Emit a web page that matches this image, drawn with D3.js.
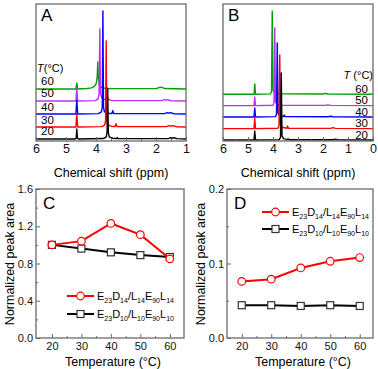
<!DOCTYPE html>
<html>
<head>
<meta charset="utf-8">
<script src="https://cdn.jsdelivr.net/npm/d3@7"></script>
<style>
  body { margin: 0; background: #fff; }
  text { font-family: Arial, "Liberation Sans", sans-serif; }
</style>
</head>
<body>
<svg id="fig" width="378" height="369"></svg>
<script>
// datos de los espectros: [ppm, altura sobre la línea base]
var temps = ["20", "30", "40", "50", "60"];
var traceColors = ["#000000", "#ff0000", "#0000ff", "#c030f0", "#00a000"];

// panel A
var offsetsA = [1.5, 10.2, 19.7, 29.2, 38];
var specA20 = [[6,0],[4.69,0],[4.66,0.5],[4.64,7.3],[4.62,0.5],[4.59,0],[3.75,0.3],[3.66,1.5],[3.63,5],[3.61,37],[3.59,5],[3.56,1.5],[3.45,0.5],[3.31,0.3],[3.29,1],[3.27,0.3],[1.6,0.2],[1.5,0.9],[1.45,0.5],[1.4,0.9],[1.3,0.2],[1,0]];
var specA30 = [[6,0],[4.67,0],[4.64,9.5],[4.61,0],[3.8,0.3],[3.71,1.5],[3.68,5],[3.66,62.8],[3.64,5],[3.61,1.5],[3.5,0.6],[3.36,0.4],[3.33,2.5],[3.3,0.4],[1.65,0.3],[1.55,1],[1.5,0.6],[1.45,1],[1.3,0.2],[1,0]];
var specA40 = [[6,0],[4.67,0],[4.64,10.2],[4.61,0],[3.92,0.3],[3.82,1.5],[3.79,5],[3.77,75.2],[3.75,5],[3.72,1.5],[3.6,0.6],[3.47,0.4],[3.44,2.5],[3.41,0.4],[1.72,0.3],[1.62,1],[1.57,0.6],[1.52,1],[1.4,0.2],[1,0]];
var specA50 = [[6,0],[4.67,0],[4.64,9.5],[4.61,0],[4.02,0.3],[3.93,1.5],[3.9,5],[3.87,52.6],[3.85,5],[3.8,2],[3.7,1],[3.6,1.5],[3.5,0.4],[1.8,0.3],[1.72,1],[1.67,0.6],[1.62,1],[1.5,0.2],[1,0]];
var specA60 = [[6,0],[4.67,0],[4.64,4.3],[4.61,0],[4.3,0.3],[4.15,0.8],[4.05,1.8],[3.99,4],[3.96,9],[3.94,19.7],[3.92,8],[3.89,3],[3.84,1.5],[3.75,0.7],[3.6,0.3],[2,0.2],[1.85,1.3],[1.78,1],[1.7,0.3],[1,0]];
var spectraA = [specA20, specA30, specA40, specA50, specA60];

// panel B
var offsetsB = [0.7, 9, 17.5, 25.8, 34.1];
var specB20 = [[6,0],[4.76,0],[4.73,6.6],[4.7,0],[3.75,0.3],[3.7,2],[3.67,48.9],[3.64,3],[3.58,1],[3.45,0.3],[3.4,0.8],[3.35,0.2],[1.6,0.2],[1.5,0.6],[1.4,0.2],[0,0]];
var specB30 = [[6,0],[4.76,0],[4.73,7.8],[4.7,0],[3.8,0.3],[3.76,2],[3.73,53.8],[3.7,3],[3.64,1],[3.45,0.3],[3.42,2],[3.39,0.3],[1.7,0.2],[1.6,0.8],[1.5,0.2],[0,0]];
var specB40 = [[6,0],[4.76,0],[4.73,6.6],[4.7,0],[3.9,0.3],[3.86,2],[3.83,54],[3.8,3],[3.74,1],[3.58,0.3],[3.55,1.5],[3.52,0.3],[1.8,0.2],[1.7,0.6],[1.6,0.2],[0,0]];
var specB50 = [[6,0],[4.76,0],[4.73,6.3],[4.7,0],[4,0.3],[3.96,2],[3.93,56.7],[3.9,3],[3.84,1],[3.7,0.3],[1.9,0.2],[1.8,0.6],[1.7,0.2],[0,0]];
var specB60 = [[6,0],[4.76,0],[4.73,7.5],[4.7,0],[4.1,0.3],[4.06,2],[4.03,60.8],[4,3],[3.94,1],[3.8,0.3],[2,0.2],[1.9,0.7],[1.8,0.2],[0,0]];
var spectraB = [specB20, specB30, specB40, specB50, specB60];

// paneles C y D: área de pico normalizada
var temperatures = [20, 30, 40, 50, 60];
var legendNames = [
  [["E",""],["23","s"],["D",""],["14","s"],["/L",""],["14","s"],["E",""],["90","s"],["L",""],["14","s"]],
  [["E",""],["23","s"],["D",""],["10","s"],["/L",""],["10","s"],["E",""],["90","s"],["L",""],["10","s"]]
];
var areaC14 = [1.0, 1.04, 1.23, 1.11, 0.85];
var areaC10 = [1.0, 0.96, 0.92, 0.89, 0.87];
var areaD14 = [0.076, 0.079, 0.094, 0.103, 0.108];
var areaD10 = [0.044, 0.044, 0.043, 0.044, 0.043];
var ticksC = [0, 0.4, 0.8, 1.2, 1.6];
var ticksD = [0, 0.1, 0.2];

var svg = d3.select("#fig");
var frameColor = "#6a6a6a";

function insideAxis(g, axis, minorAxis) {
  g.call(minorAxis);
  g.selectAll("text").remove();
  g.select(".domain").remove();
  var gm = g.append("g").call(axis);
  gm.select(".domain").remove();
  g.selectAll("line").attr("stroke", frameColor);
  g.selectAll("text").attr("font-size", 11).attr("fill", "#111");
}

// ---- Espectros (A y B)
function drawSpectra(x, offsets, spectra, frame, letter, labelPos) {
  var y = d3.scaleLinear().domain([0, 100]).range([141, 4]);
  var line = d3.line()
    .x(d => x(d[0]))
    .y(d => y(d[1]));

  // dibujar de 60 a 20 para que el negro quede encima
  for (var i = spectra.length - 1; i >= 0; i--) {
    var off = offsets[i];
    svg.append("path")
      .attr("d", line(spectra[i].map(p => [p[0], p[1] + off])))
      .attr("fill", "none")
      .attr("stroke", traceColors[i])
      .attr("stroke-width", 1.4)
      .attr("stroke-linejoin", "round");
  }

  var xd = x.domain();
  var majors = d3.range(Math.min(xd[0], xd[1]), Math.max(xd[0], xd[1]) + 0.01, 1);
  var minors = d3.range(Math.min(xd[0], xd[1]) + 0.5, Math.max(xd[0], xd[1]), 1);
  var g = svg.append("g").attr("transform", "translate(0,141)");
  insideAxis(g,
    d3.axisBottom(x).tickValues(majors).tickFormat(d3.format("d")).tickSize(-4).tickPadding(3),
    d3.axisBottom(x).tickValues(minors).tickSize(-2));
  g.selectAll("text").attr("font-size", 12.5);

  svg.append("rect")
    .attr("x", frame[0]).attr("y", 4)
    .attr("width", frame[1] - frame[0]).attr("height", 137)
    .attr("fill", "none").attr("stroke", frameColor).attr("stroke-width", 1.3);

  svg.append("text")
    .attr("x", frame[0] + 5).attr("y", 21)
    .attr("font-size", 17)
    .text(letter);

  svg.append("text")
    .attr("x", (frame[0] + frame[1]) / 2).attr("y", 177)
    .attr("text-anchor", "middle")
    .attr("font-size", 12.5)
    .text("Chemical shift (ppm)");

  // etiquetas de temperatura
  var tl = svg.append("text")
    .attr("x", labelPos.titleX).attr("y", labelPos.titleY)
    .attr("text-anchor", labelPos.anchor)
    .attr("font-size", 11);
  tl.append("tspan").attr("font-style", "italic").text("T");
  tl.append("tspan").text(labelPos.sep + "(°C)");

  temps.forEach(function(t, i) {
    svg.append("text")
      .attr("x", labelPos.numX)
      .attr("y", y(offsets[i]) - labelPos.lift)
      .attr("text-anchor", labelPos.anchor)
      .attr("font-size", 11.5)
      .text(t);
  });
}

var xA = d3.scaleLinear().domain([6, 1]).range([36, 186]);
drawSpectra(xA, offsetsA, spectraA, [36, 186], "A",
  { titleX: 37, titleY: 72, numX: 41, anchor: "start", sep: "", lift: 3.5 });

var xB = d3.scaleLinear().domain([6, 0]).range([223, 373]);
drawSpectra(xB, offsetsB, spectraB, [223, 373], "B",
  { titleX: 373, titleY: 79, numX: 368, anchor: "end", sep: " ", lift: 1.3 });

// ---- Gráficos de área (C y D)
function drawArea(x, y, ticks, minorStep, series, frame, letter, legendPos) {
  var gx = svg.append("g").attr("transform", "translate(0,338)");
  insideAxis(gx,
    d3.axisBottom(x).tickValues(temperatures).tickSize(-4).tickPadding(4),
    d3.axisBottom(x).tickValues([25, 35, 45, 55]).tickSize(-2));

  var yd = y.domain();
  var yMinor = d3.range(yd[0] + minorStep, yd[1], minorStep * 2);
  var gy = svg.append("g").attr("transform", "translate(" + frame[0] + ",0)");
  insideAxis(gy,
    d3.axisLeft(y).tickValues(ticks).tickFormat(d3.format(".1f")).tickSize(-4).tickPadding(3),
    d3.axisLeft(y).tickValues(yMinor).tickSize(-2));

  svg.append("rect")
    .attr("x", frame[0]).attr("y", 189)
    .attr("width", frame[1] - frame[0]).attr("height", 149)
    .attr("fill", "none").attr("stroke", frameColor).attr("stroke-width", 1.3);

  svg.append("text")
    .attr("x", frame[0] + 7).attr("y", 209)
    .attr("font-size", 17)
    .text(letter);

  var line = d3.line().x(d => x(d[0])).y(d => y(d[1]));

  // negro primero, rojo encima
  [1, 0].forEach(function(k) {
    var s = series[k];
    var pts = temperatures.map((t, i) => [t, s.values[i]]);
    svg.append("path")
      .attr("d", line(pts))
      .attr("fill", "none")
      .attr("stroke", s.color)
      .attr("stroke-width", 2);
    pts.forEach(function(p) {
      drawMarker(s.shape, x(p[0]), y(p[1]), s.color);
    });
  });

  // leyenda
  series.forEach(function(s, k) {
    var ly = legendPos.y[k];
    svg.append("line")
      .attr("x1", legendPos.x0).attr("x2", legendPos.x0 + 27)
      .attr("y1", ly).attr("y2", ly)
      .attr("stroke", s.color).attr("stroke-width", 2);
    drawMarker(s.shape, legendPos.x0 + 13.5, ly, s.color);
    var t = svg.append("text")
      .attr("x", legendPos.x0 + 30).attr("y", ly + 4)
      .attr("font-size", 11);
    legendNames[k].forEach(function(part, i) {
      if (part[1] === "s") {
        t.append("tspan").attr("font-size", 7).attr("dy", 3).text(part[0]);
      } else {
        t.append("tspan").attr("dy", i === 0 ? 0 : -3).text(part[0]);
      }
    });
  });

  svg.append("text")
    .attr("x", (frame[0] + frame[1]) / 2 + 3).attr("y", 366)
    .attr("text-anchor", "middle")
    .attr("font-size", 12.5)
    .text("Temperature (°C)");

  svg.append("text")
    .attr("transform", "translate(" + (frame[0] - 22) + ",264) rotate(-90)")
    .attr("text-anchor", "middle")
    .attr("font-size", 12.5)
    .text("Normalized peak area");
}

function drawMarker(shape, cx, cy, color) {
  if (shape === "circle") {
    svg.append("circle")
      .attr("cx", cx).attr("cy", cy).attr("r", 3.8)
      .attr("fill", "#fff").attr("stroke", color).attr("stroke-width", 1.2);
  } else {
    svg.append("rect")
      .attr("x", cx - 3.5).attr("y", cy - 3.5)
      .attr("width", 7).attr("height", 7)
      .attr("fill", "#fff").attr("stroke", "#333").attr("stroke-width", 1.2);
  }
}

var xC = d3.scaleLinear().domain([14.6, 64.8]).range([36, 184]);
var yC = d3.scaleLinear().domain([0, 1.6]).range([338, 189]);
drawArea(xC, yC, ticksC, 0.2,
  [{ values: areaC14, color: "#ff0000", shape: "circle" },
   { values: areaC10, color: "#000000", shape: "square" }],
  [36, 184], "C", { x0: 67, y: [296, 314] });

var xD = d3.scaleLinear().domain([15, 64.5]).range([227, 373]);
var yD = d3.scaleLinear().domain([0, 0.2]).range([338, 189]);
drawArea(xD, yD, ticksD, 0.05,
  [{ values: areaD14, color: "#ff0000", shape: "circle" },
   { values: areaD10, color: "#000000", shape: "square" }],
  [227, 373], "D", { x0: 262, y: [212, 229] });
</script>
</body>
</html>
